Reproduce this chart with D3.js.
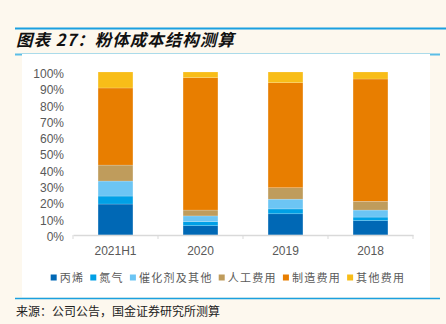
<!DOCTYPE html>
<html>
<head>
<meta charset="utf-8">
<script src="https://cdn.jsdelivr.net/npm/d3@7"></script>
<style>
  html, body { margin: 0; padding: 0; background: #fdf8ee; }
  svg { display: block; }
</style>
</head>
<body>
<div id="chart"></div>
<script>
// cost structure per period, in percent
var categories = ['2021H1', '2020', '2019', '2018'];
var propylene = [19.0, 5.7, 13.0, 8.8];
var nitrogen = [4.9, 2.5, 3.0, 2.2];
var catalyst = [9.2, 3.5, 6.0, 4.3];
var labor = [9.8, 3.6, 7.0, 5.4];
var manufacturing = [47.3, 81.2, 64.4, 75.0];
var otherCost = [9.8, 3.5, 6.6, 4.3];
var yTicks = [0, 10, 20, 30, 40, 50, 60, 70, 80, 90, 100];

var seriesNames = ['丙烯', '氮气', '催化剂及其他', '人工费用', '制造费用', '其他费用'];
var seriesValues = [propylene, nitrogen, catalyst, labor, manufacturing, otherCost];
var colors = ['#0068b5', '#00a0e6', '#6cc5f4', '#bf9c5c', '#e87e00', '#f8bd18'];

var width = 446, height = 324;
var fontLatin = 'Liberation Sans, Arial, sans-serif';
var fontCjk = '"Noto Sans CJK SC", sans-serif';

var svg = d3.select('#chart').append('svg')
	.attr('width', width)
	.attr('height', height);

svg.append('rect')
	.attr('width', width)
	.attr('height', height)
	.attr('fill', '#fdf8ee');

// header rule and title
svg.append('line')
	.attr('x1', 15).attr('x2', 446)
	.attr('y1', 28.5).attr('y2', 28.5)
	.attr('stroke', '#1aa0e0')
	.attr('stroke-width', 2);

svg.append('text')
	.attr('x', 16)
	.attr('y', 46)
	.attr('font-family', fontCjk)
	.attr('font-size', 16.5)
	.attr('font-weight', 'bold')
	.attr('font-style', 'italic')
	.attr('letter-spacing', 1)
	.attr('fill', '#111')
	.text('图表 27：粉体成本结构测算');

// chart panel
svg.append('line')
	.attr('x1', 15).attr('x2', 440)
	.attr('y1', 54.5).attr('y2', 54.5)
	.attr('stroke', '#5bbde6')
	.attr('stroke-width', 2);

svg.append('rect')
	.attr('x', 22)
	.attr('y', 54)
	.attr('width', 408)
	.attr('height', 243)
	.attr('fill', '#ffffff');

svg.append('line')
	.attr('x1', 15).attr('x2', 440)
	.attr('y1', 298.5).attr('y2', 298.5)
	.attr('stroke', '#1aa0e0')
	.attr('stroke-width', 1.5);

svg.append('text')
	.attr('x', 16)
	.attr('y', 316)
	.attr('font-family', fontCjk)
	.attr('font-size', 12)
	.attr('fill', '#222')
	.text('来源：公司公告，国金证券研究所测算');

// scales
var x = d3.scaleBand()
	.domain(categories)
	.range([73, 413])
	.padding(0);

var y = d3.scaleLinear()
	.domain([0, 100])
	.range([235, 72]);

var barWidth = x.bandwidth() * 0.41;

// stacked data
var rows = categories.map(function(c, i) {
	var row = { category: c };
	seriesNames.forEach(function(name, k) {
		row[name] = seriesValues[k][i];
	});
	return row;
});

var stack = d3.stack().keys(seriesNames);
var layers = stack(rows);

var plot = svg.append('g');

plot.selectAll('g.layer')
	.data(layers)
	.enter().append('g')
	.attr('class', 'layer')
	.attr('fill', function(d, i) { return colors[i]; })
	.selectAll('rect')
	.data(function(d) { return d; })
	.enter().append('rect')
	.attr('x', function(d) { return x(d.data.category) + (x.bandwidth() - barWidth) / 2; })
	.attr('y', function(d) { return y(d[1]); })
	.attr('width', barWidth)
	.attr('height', function(d) { return y(d[0]) - y(d[1]); })
	.attr('stroke', '#ffffff')
	.attr('stroke-opacity', 0.35)
	.attr('stroke-width', 0.5);

// y axis labels, no domain line
var yAxis = svg.append('g')
	.attr('transform', 'translate(68,0)')
	.call(d3.axisLeft(y)
		.tickValues(yTicks)
		.tickSize(0)
		.tickPadding(4)
		.tickFormat(function(d) { return d + '%'; }));

yAxis.select('.domain').remove();
yAxis.selectAll('text')
	.attr('font-family', fontLatin)
	.attr('font-size', 12)
	.attr('fill', '#595959')
	.attr('dy', '0.45em');

// x axis
var xAxis = svg.append('g')
	.attr('transform', 'translate(0,235)')
	.call(d3.axisBottom(x).tickSize(0).tickPadding(11));

xAxis.select('.domain')
	.attr('stroke', '#d9d9d9')
	.attr('stroke-width', 1.5);

xAxis.selectAll('text')
	.attr('font-family', fontLatin)
	.attr('font-size', 12)
	.attr('fill', '#595959');

var bounds = categories.map(function(c) { return x(c); }).concat([x.range()[1]]);
xAxis.selectAll('line.sep')
	.data(bounds)
	.enter().append('line')
	.attr('class', 'sep')
	.attr('x1', function(d) { return d; })
	.attr('x2', function(d) { return d; })
	.attr('y1', 0)
	.attr('y2', 4)
	.attr('stroke', '#d9d9d9')
	.attr('stroke-width', 1);

// legend
var legend = svg.append('g').attr('transform', 'translate(0,278)');
var items = legend.selectAll('g.item')
	.data(seriesNames)
	.enter().append('g')
	.attr('class', 'item');

items.append('rect')
	.attr('x', 0)
	.attr('y', -3.5)
	.attr('width', 6)
	.attr('height', 6)
	.attr('fill', function(d, i) { return colors[i]; });

items.append('text')
	.attr('x', 9)
	.attr('y', 0)
	.attr('dy', '0.36em')
	.attr('font-family', fontCjk)
	.attr('font-size', 11)
	.attr('letter-spacing', 1.3)
	.attr('fill', '#595959')
	.text(function(d) { return d; });

var offsets = [];
var cursor = 0;
items.each(function() {
	var w = d3.select(this).select('text').node().getComputedTextLength();
	offsets.push(cursor);
	cursor += 9 + w + 6;
});
var start = 228 - (cursor - 6) / 2;
items.attr('transform', function(d, i) { return 'translate(' + (start + offsets[i]) + ',0)'; });
</script>
</body>
</html>
